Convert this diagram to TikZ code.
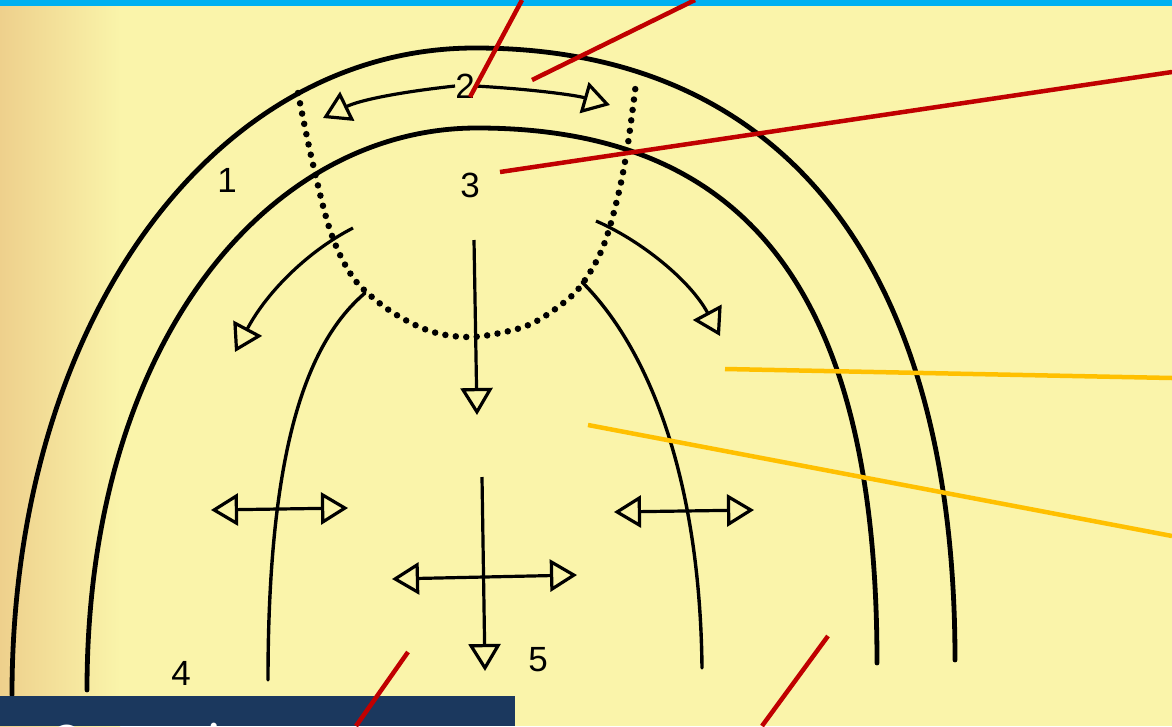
\documentclass[tikz,border=0pt]{standalone}
\usepackage{fontspec}
\setmainfont{Liberation Sans}
\newfontfamily\boxfont{Carlito}
\usetikzlibrary{arrows.meta}

\definecolor{paper}{RGB}{250,244,170}
\definecolor{paperedge}{RGB}{238,208,140}
\definecolor{topbar}{RGB}{0,176,240}
\definecolor{navy}{RGB}{27,56,94}
\definecolor{ptrred}{RGB}{192,0,0}
\definecolor{ptryellow}{RGB}{255,192,0}

\begin{document}
\begin{tikzpicture}[x=1pt, y=-1pt,
  arch/.style={line width=4.8pt, line cap=round},
  innerarch/.style={line width=3.4pt, line cap=round},
  flow/.style={line width=3.2pt, -{Triangle[open, length=27pt, width=32pt]}},
  twoway/.style={line width=3.2pt, {Triangle[open, length=27pt, width=32pt]}-{Triangle[open, length=27pt, width=32pt]}},
  dots/.style={line width=6.5pt, line cap=round, dash pattern=on 0pt off 10.5pt},
  num/.style={font=\fontsize{35}{35}\selectfont, inner sep=0pt},
  ptr/.style={line width=4.5pt, draw=ptrred},
  ptrb/.style={line width=4.5pt, draw=ptryellow},
]
\useasboundingbox (0,0) rectangle (1172,726);

% paper
\fill[paper] (0,0) rectangle (1172,726);
\shade[left color=paperedge, right color=paper] (0,0) rectangle (120,726);
\fill[topbar] (0,0) rectangle (1172,6);

% zones
\draw[arch] (12,695) .. controls (12,320) and (215,48) .. (475,48)
  .. controls (780,48) and (955,260) .. (955,660);
\draw[arch] (87,690) .. controls (87,340) and (270,128) .. (477,128)
  .. controls (760,128) and (877,310) .. (877,663);
\draw[innerarch] (365,293) .. controls (310,340) and (268,440) .. (268,680);
\draw[innerarch] (582,282) .. controls (650,350) and (700,480) .. (702,668);
\draw[dots] plot[smooth, tension=0.6] coordinates {(298,93) (312,160) (330,230) (350,273) (372,297) (400,317) (433,332) (467,337) (500,333) (533,323) (567,300) (585,280) (603,247) (617,200) (627,150) (636,83)};

% labels
\node[num] (n1) at (227,180) {1};
\node[num] (n2) at (465,86) {2};
\node[num] (n3) at (470,185) {3};
\node[num] (n4) at (181,673) {4};
\node[num] (n5) at (538,660) {5};

% movements
\draw[flow] (n2.west) .. controls (400,92) and (360,100) .. (323,118);
\draw[flow] (n2.east) .. controls (530,89) and (575,95) .. (610,105);
\draw[flow] (353,228) .. controls (310,250) and (268,290) .. (235,352);
\draw[flow] (596,221) .. controls (640,240) and (690,280) .. (720,336);
\draw[flow] (474,240) -- (477,415);
\draw[flow] (482,477) -- (485,671);
\draw[twoway] (392,579) -- (577,575);
\draw[twoway] (211,510) -- (348,508);
\draw[twoway] (614,512) -- (754,510);

% caption box
\fill[navy] (0,696) rectangle (515,726);
\begin{scope}
  \clip (0,696) rectangle (515,726);
  \node[anchor=north west, inner sep=0pt, text=white, font=\boxfont\fontsize{50}{50}\selectfont] (cap) at (50,723) {Основні};
\end{scope}

% pointers
\coordinate (r1a) at (522,0);   \coordinate (r1b) at (470,97);
\coordinate (r2a) at (695,0);   \coordinate (r2b) at (532,80);
\coordinate (r3a) at (1172,72); \coordinate (r3b) at (500,172);
\coordinate (r4a) at (408,652); \coordinate (r4b) at (356,726);
\coordinate (r5a) at (828,636); \coordinate (r5b) at (762,726);
\coordinate (y1a) at (725,369); \coordinate (y1b) at (1172,378);
\coordinate (y2a) at (588,425); \coordinate (y2b) at (1172,536);
\draw[ptr] (r1a) -- (r1b);
\draw[ptr] (r2a) -- (r2b);
\draw[ptr] (r3a) -- (r3b);
\draw[ptr] (r4a) -- (r4b);
\draw[ptr] (r5a) -- (r5b);
\draw[ptrb] (y1a) -- (y1b);
\draw[ptrb] (y2a) -- (y2b);
\end{tikzpicture}
\end{document}
